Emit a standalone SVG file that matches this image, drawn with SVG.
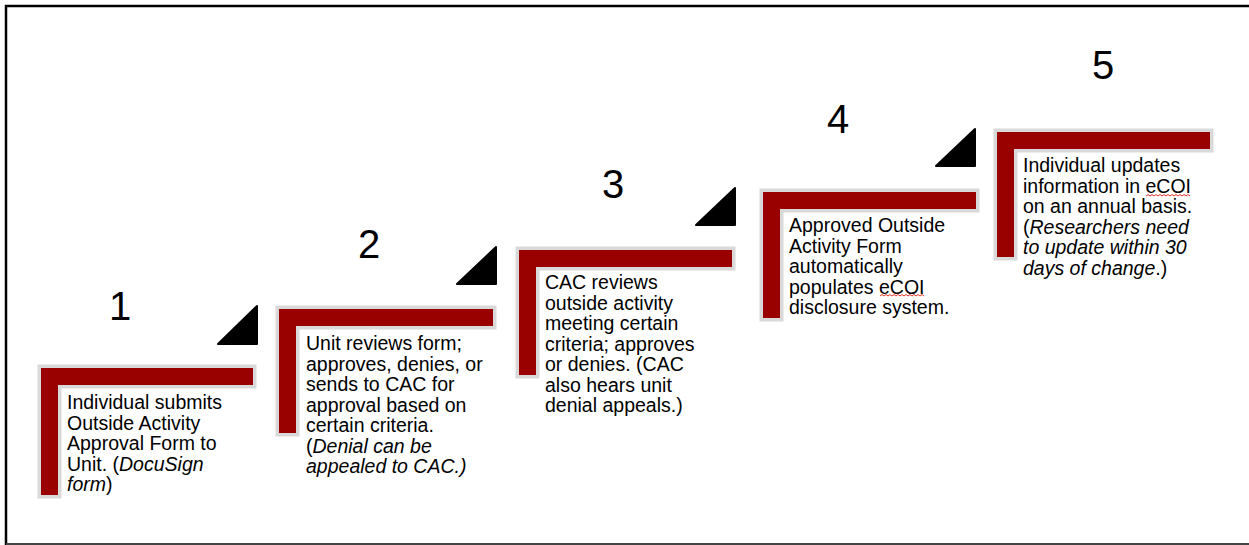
<svg xmlns="http://www.w3.org/2000/svg" width="1249" height="545" viewBox="0 0 1249 545">
<style>
.frame{fill:none;stroke:#000;stroke-width:2.5}
.bot{stroke:#444;stroke-width:2}
.ell{fill:#990000;stroke:#d9d9d9;stroke-width:7;paint-order:stroke;stroke-linejoin:miter}
.tri{fill:#000;stroke:#000;stroke-width:2;stroke-linejoin:round}
.num{font-family:"Liberation Sans",Arial,sans-serif;font-size:40px;fill:#000;text-anchor:middle}
.txt{font-family:"Liberation Sans",Arial,sans-serif;font-size:19.5px;fill:#000}
.it{font-style:italic}
.wavy{fill:none;stroke:#e0302a;stroke-width:1}
</style>
<rect width="1249" height="545" fill="#fff"/>
<path class="frame" d="M6,545 V6 H1249"/>
<line class="bot" x1="6" y1="544" x2="1249" y2="544"/>

<g id="arrows">
<polygon class="tri" points="218,344 257,344 257,306"/>
<polygon class="tri" points="457,284 496,284 496,247"/>
<polygon class="tri" points="696,225 735,225 735,188"/>
<polygon class="tri" points="936,166 975,166 975,129"/>
</g>

<g id="step1">
<polygon class="ell" points="41,368 253,368 253,385 58,385 58,495 41,495"/>
<text class="num" x="120" y="320">1</text>
<text class="txt" x="67" y="409">
<tspan x="67" dy="0">Individual submits</tspan>
<tspan x="67" dy="20.5">Outside Activity</tspan>
<tspan x="67" dy="20.5">Approval Form to</tspan>
<tspan x="67" dy="20.5">Unit. (<tspan class="it">DocuSign</tspan></tspan>
<tspan x="67" dy="20.5"><tspan class="it">form</tspan>)</tspan>
</text>
</g>

<g id="step2">
<polygon class="ell" points="279,309 493,309 493,326 296,326 296,433 279,433"/>
<text class="num" x="369" y="258">2</text>
<text class="txt" x="306" y="350">
<tspan x="306" dy="0">Unit reviews form;</tspan>
<tspan x="306" dy="20.5">approves, denies, or</tspan>
<tspan x="306" dy="20.5">sends to CAC for</tspan>
<tspan x="306" dy="20.5">approval based on</tspan>
<tspan x="306" dy="20.5">certain criteria.</tspan>
<tspan x="306" dy="20.5">(<tspan class="it">Denial can be</tspan></tspan>
<tspan x="306" dy="20.5" class="it">appealed to CAC.)</tspan>
</text>
</g>

<g id="step3">
<polygon class="ell" points="519,250 732,250 732,267 536,267 536,375 519,375"/>
<text class="num" x="613" y="198">3</text>
<text class="txt" x="545" y="289">
<tspan x="545" dy="0">CAC reviews</tspan>
<tspan x="545" dy="20.5">outside activity</tspan>
<tspan x="545" dy="20.5">meeting certain</tspan>
<tspan x="545" dy="20.5">criteria; approves</tspan>
<tspan x="545" dy="20.5">or denies. (CAC</tspan>
<tspan x="545" dy="20.5">also hears unit</tspan>
<tspan x="545" dy="20.5">denial appeals.)</tspan>
</text>
</g>

<g id="step4">
<polygon class="ell" points="763,192 976,192 976,209 780,209 780,318 763,318"/>
<text class="num" x="838" y="133">4</text>
<text class="txt" x="789" y="232">
<tspan x="789" dy="0">Approved Outside</tspan>
<tspan x="789" dy="20.5">Activity Form</tspan>
<tspan x="789" dy="20.5">automatically</tspan>
<tspan x="789" dy="20.5">populates eCOI</tspan>
<tspan x="789" dy="20.5">disclosure system.</tspan>
</text>
<path class="wavy" d="M880,296 l2,-1.5 l2,1.5 l2,-1.5 l2,1.5 l2,-1.5 l2,1.5 l2,-1.5 l2,1.5 l2,-1.5 l2,1.5 l2,-1.5 l2,1.5 l2,-1.5 l2,1.5 l2,-1.5 l2,1.5 l2,-1.5 l2,1.5 l2,-1.5 l2,1.5 l2,-1.5 l2,1.5"/>
</g>

<g id="step5">
<polygon class="ell" points="997,132 1210,132 1210,149 1014,149 1014,257 997,257"/>
<text class="num" x="1103" y="79">5</text>
<text class="txt" x="1023" y="172">
<tspan x="1023" dy="0">Individual updates</tspan>
<tspan x="1023" dy="20.5">information in eCOI</tspan>
<tspan x="1023" dy="20.5">on an annual basis.</tspan>
<tspan x="1023" dy="20.5">(<tspan class="it">Researchers need</tspan></tspan>
<tspan x="1023" dy="20.5" class="it">to update within 30</tspan>
<tspan x="1023" dy="20.5"><tspan class="it">days of change</tspan>.)</tspan>
</text>
<path class="wavy" d="M1146,196 l2,-1.5 l2,1.5 l2,-1.5 l2,1.5 l2,-1.5 l2,1.5 l2,-1.5 l2,1.5 l2,-1.5 l2,1.5 l2,-1.5 l2,1.5 l2,-1.5 l2,1.5 l2,-1.5 l2,1.5 l2,-1.5 l2,1.5 l2,-1.5 l2,1.5 l2,-1.5 l2,1.5"/>
</g>
</svg>
